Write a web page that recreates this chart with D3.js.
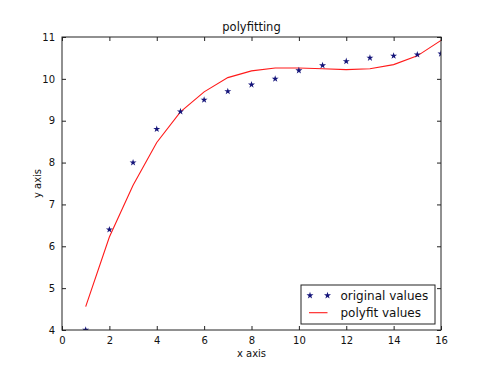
<!DOCTYPE html>
<html><head><meta charset="utf-8">
<script src="https://cdn.jsdelivr.net/npm/d3@7"></script>
<style>body{margin:0;background:#fff}svg{display:block}text{font-family:"DejaVu Sans",sans-serif;fill:#111}</style>
</head><body><svg id="c" width="490" height="367"></svg>
<script>
const xValues = [1,2,3,4,5,6,7,8,9,10,11,12,13,14,15,16];
const originalValues = [4.00,6.40,8.00,8.80,9.22,9.50,9.70,9.86,10.00,10.20,10.32,10.42,10.50,10.55,10.58,10.60];
const polyfitValues = [4.56,6.22,7.46,8.48,9.21,9.69,10.03,10.19,10.26,10.26,10.24,10.22,10.24,10.34,10.55,10.92];
const xTicks = [0,2,4,6,8,10,12,14,16];
const yTicks = [4,5,6,7,8,9,10,11];
const titleText = "polyfitting";
const xLabel = "x axis", yLabel = "y axis";
const legendLabels = ["original values","polyfit values"];

const svg = d3.select("#c");
const L=62, R=441, T=37, B=330;
const x = d3.scaleLinear().domain([0,16]).range([L,R]);
const y = d3.scaleLinear().domain([4,11]).range([B,T]);
const axisColor="#222";

svg.append("defs").append("clipPath").attr("id","clip")
  .append("rect").attr("x",L).attr("y",T).attr("width",R-L).attr("height",B-T);
const plot = svg.append("g").attr("clip-path","url(#clip)");

// line
plot.append("path").datum(xValues.map((v,i)=>[v,polyfitValues[i]]))
  .attr("fill","none").attr("stroke","#ff1a1a").attr("stroke-width",1.1)
  .attr("d",d3.line().x(d=>x(d[0])).y(d=>y(d[1])));

// stars
const star = d3.symbol().type(d3.symbolStar).size(15);
plot.append("g").selectAll("path").data(xValues.map((v,i)=>[v,originalValues[i]])).join("path")
  .attr("transform",d=>`translate(${x(d[0])},${y(d[1])})`)
  .attr("d",star).attr("fill","#14147a");

// frame
svg.append("rect").attr("x",L).attr("y",T).attr("width",R-L).attr("height",B-T)
  .attr("fill","none").attr("stroke",axisColor).attr("stroke-width",1);

// axes with inward ticks
const xb = d3.axisBottom(x).tickValues(xTicks).tickSizeInner(-4).tickSizeOuter(0).tickPadding(7).tickFormat(d3.format("d"));
const gx = svg.append("g").attr("transform",`translate(0,${B})`).call(xb);
const xt = d3.axisTop(x).tickValues(xTicks).tickSizeInner(-4).tickSizeOuter(0).tickFormat("");
const gxt = svg.append("g").attr("transform",`translate(0,${T})`).call(xt);
const yl = d3.axisLeft(y).tickValues(yTicks).tickSizeInner(-4).tickSizeOuter(0).tickPadding(7).tickFormat(d3.format("d"));
const gy = svg.append("g").attr("transform",`translate(${L},0)`).call(yl);
const yr = d3.axisRight(y).tickValues(yTicks).tickSizeInner(-4).tickSizeOuter(0).tickFormat("");
const gyr = svg.append("g").attr("transform",`translate(${R},0)`).call(yr);
[gx,gxt,gy,gyr].forEach(g=>{
  g.select(".domain").remove();
  g.selectAll(".tick line").attr("stroke",axisColor);
  g.selectAll("text").attr("font-size",10).attr("font-family","DejaVu Sans").attr("fill","#111");
});

// title & labels
svg.append("text").attr("x",(L+R)/2).attr("y",31).attr("text-anchor","middle").attr("font-size",11.5).text(titleText);
svg.append("text").attr("x",(L+R)/2).attr("y",357).attr("text-anchor","middle").attr("font-size",10).text(xLabel);
svg.append("text").attr("transform",`translate(41,${(T+B)/2}) rotate(-90)`).attr("text-anchor","middle").attr("font-size",10).text(yLabel);

// legend
const lg = svg.append("g");
lg.append("rect").attr("x",301).attr("y",285).attr("width",134).attr("height",39)
  .attr("fill","#fff").attr("stroke",axisColor).attr("stroke-width",1);
[310,327.5].forEach(px=>lg.append("path").attr("transform",`translate(${px},295.5)`).attr("d",star).attr("fill","#14147a"));
lg.append("line").attr("x1",309).attr("x2",327.5).attr("y1",312.7).attr("y2",312.7).attr("stroke","#ff1a1a").attr("stroke-width",1.1);
lg.append("text").attr("x",340.5).attr("y",299.8).attr("font-size",12).text(legendLabels[0]);
lg.append("text").attr("x",340.5).attr("y",317.3).attr("font-size",12).text(legendLabels[1]);
</script></body></html>
